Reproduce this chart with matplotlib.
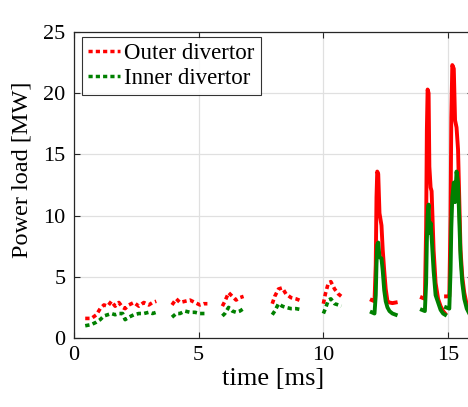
import numpy as np
import matplotlib
matplotlib.use("Agg")
import matplotlib.pyplot as plt

plt.rcParams["font.family"] = ["Liberation Serif", "DejaVu Serif"]

# inter-ELM segments (dotted in the original plot)
t_seg = [
    [0.45, 0.7, 0.9, 1.05, 1.2, 1.35, 1.5, 1.65, 1.8, 1.95, 2.05, 2.2, 2.4, 2.6, 2.8, 3.0, 3.15, 3.3],
    [3.93, 4.1, 4.25, 4.45, 4.65, 4.85, 5.05, 5.2, 5.35],
    [5.95, 6.05, 6.2, 6.35, 6.5, 6.65, 6.8],
    [7.95, 8.05, 8.2, 8.35, 8.5, 8.7, 8.9, 9.15],
    [10.0, 10.08, 10.2, 10.3, 10.45, 10.6, 10.72],
]
outer_seg = [
    [1.6, 1.6, 1.9, 2.4, 2.7, 2.6, 3.0, 2.6, 2.9, 2.5, 2.4, 2.7, 2.9, 2.6, 2.9, 2.7, 2.9, 3.0],
    [2.7, 3.2, 2.9, 3.0, 3.1, 2.9, 2.7, 2.8, 2.8],
    [2.6, 3.0, 3.7, 3.4, 3.1, 3.3, 3.4],
    [2.8, 3.4, 4.0, 4.1, 3.6, 3.3, 3.2, 3.0],
    [2.8, 3.6, 4.5, 4.6, 4.0, 3.6, 3.4],
]
inner_seg = [
    [1.0, 1.1, 1.3, 1.5, 1.8, 1.9, 2.0, 1.9, 2.0, 2.0, 1.5, 1.7, 1.9, 2.0, 2.0, 2.1, 2.0, 2.1],
    [1.7, 2.0, 2.0, 2.2, 2.1, 2.1, 2.0, 2.0, 2.0],
    [1.8, 2.0, 2.5, 2.2, 2.1, 2.2, 2.4],
    [1.9, 2.2, 2.8, 2.6, 2.5, 2.4, 2.4, 2.3],
    [2.0, 2.4, 3.1, 3.2, 2.8, 2.7, 2.6],
]

# ELM bursts (dense data, drawn solid)
t_elm = [
    [11.94, 12.05, 12.1, 12.13, 12.16, 12.2, 12.25, 12.33, 12.38, 12.44, 12.5, 12.57, 12.65, 12.77, 12.9],
    [13.95, 14.07, 14.12, 14.15, 14.18, 14.22, 14.25, 14.3, 14.34, 14.42, 14.5, 14.6, 14.7, 14.8, 14.88],
    [14.92, 15.05, 15.1, 15.13, 15.17, 15.23, 15.28, 15.34, 15.4, 15.5, 15.57, 15.65, 15.75, 15.85, 15.95],
]
outer_elm = [
    [3.1, 3.0, 6.0, 11.5, 13.6, 13.4, 10.2, 9.2, 7.2, 5.5, 4.0, 3.0, 2.9, 2.85, 2.9],
    [3.3, 3.2, 9.0, 17.0, 20.3, 20.0, 14.0, 12.3, 12.0, 7.2, 4.5, 3.2, 2.6, 2.2, 2.0],
    [3.4, 3.4, 10.0, 18.0, 22.3, 22.0, 17.8, 17.2, 15.4, 7.2, 5.0, 3.7, 2.7, 2.3, 2.1],
]
inner_elm = [
    [2.1, 2.0, 3.5, 6.0, 7.6, 7.8, 6.6, 6.5, 5.5, 3.9, 3.0, 2.5, 2.2, 2.0, 1.9],
    [2.3, 2.2, 4.5, 8.0, 10.0, 10.9, 8.6, 9.4, 8.3, 5.5, 3.5, 2.9, 2.3, 2.0, 1.9],
    [2.5, 2.4, 5.5, 9.0, 11.5, 12.7, 11.1, 13.6, 12.7, 6.6, 4.5, 3.2, 2.4, 2.0, 1.9],
]

labels = ["Outer divertor", "Inner divertor"]
red = (1, 0, 0)
green = (0, 0.5, 0)
dots = (0, (1.2, 0.9))

fig = plt.figure(figsize=(4.68, 4.07), dpi=100)
ax = fig.add_axes([74 / 468, 69 / 407, 399 / 468, 306 / 407])

for t, o, i in zip(t_seg, outer_seg, inner_seg):
    ax.plot(t, o, color=red, lw=2.6, ls=dots)
    ax.plot(t, i, color=green, lw=2.6, ls=dots)
for t, o, i in zip(t_elm, outer_elm, inner_elm):
    ax.plot(t, o, color=red, lw=2.8)
    ax.plot(t, i, color=green, lw=2.8)

# legend handles
h1, = ax.plot([], [], color=red, lw=2.5, ls=dots)
h2, = ax.plot([], [], color=green, lw=2.5, ls=dots)

ax.set_xlim(0, 16)
ax.set_ylim(0, 25)
ax.set_xticks([0, 5, 10, 15])
ax.set_yticks([0, 5, 10, 15, 20, 25])
ax.grid(True, color=(0.88, 0.88, 0.88), lw=0.9)
ax.set_axisbelow(True)
ax.tick_params(direction="in", top=True, right=True, labelsize=16, length=4,
               width=0.8, color=(0.15, 0.15, 0.15), pad=6)
for s in ax.spines.values():
    s.set_color((0.15, 0.15, 0.15))
    s.set_linewidth(0.9)

ax.set_xlabel("time [ms]", fontsize=19, labelpad=2)
ax.set_ylabel("Power load [MW]", fontsize=17.5)
ax.yaxis.set_label_coords(-0.105, 0.55)

leg = ax.legend([h1, h2], labels, loc="upper left",
                bbox_to_anchor=(82 / 468, 1 - 37 / 407), bbox_transform=fig.transFigure,
                fontsize=16.5, frameon=True, fancybox=False, edgecolor="black",
                handlelength=1.4, handletextpad=0.2, borderpad=0.25,
                labelspacing=0.2, borderaxespad=0)
leg.get_frame().set_linewidth(0.8)

fig.savefig("out.png", dpi=100)
